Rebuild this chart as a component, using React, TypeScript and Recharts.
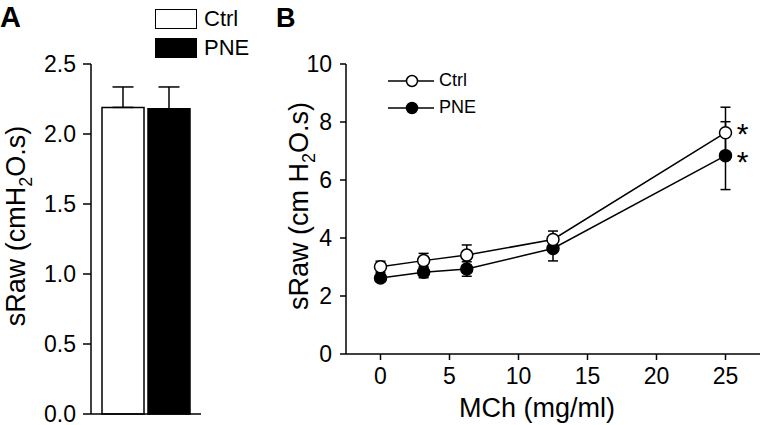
import { BarChart, Bar, LineChart, Line, XAxis, YAxis, ErrorBar, Legend, LabelList } from "recharts"

const FONT = "'Liberation Sans', Arial, Helvetica, sans-serif"

// panel A: baseline sRaw
const groups = ["Ctrl", "PNE"]
const baseRaw = [2.19, 2.18]
const baseSem = [0.146, 0.156]
const aTicks = [0, 0.5, 1, 1.5, 2, 2.5]

// panel B: MCh dose response
const doses = [0, 3.125, 6.25, 12.5, 25]
const ctrlRaw = [3.01, 3.22, 3.41, 3.95, 7.63]
const ctrlSem = [0.19, 0.25, 0.35, 0.29, 0.88]
const pneRaw = [2.62, 2.82, 2.93, 3.64, 6.84]
const pneSem = [0.12, 0.19, 0.25, 0.43, 1.17]
const stars = ["", "", "", "", "*"]
const bXTicks = [0, 5, 10, 15, 20, 25]
const bYTicks = [0, 2, 4, 6, 8, 10]

const barData = [
  {
    name: "baseline",
    ctrl: baseRaw[0],
    pne: baseRaw[1],
    ctrlErr: [0, baseSem[0]],
    pneErr: [0, baseSem[1]],
  },
]

const lineData = doses.map((d, i) => ({
  dose: d,
  ctrl: ctrlRaw[i],
  ctrlErr: ctrlSem[i],
  pne: pneRaw[i],
  pneErr: pneSem[i],
  star: stars[i],
}))

const tickStyle = { fill: "#000", fontSize: 23, fontFamily: FONT }
const axisStroke = { stroke: "#000", strokeWidth: 1.5 }

function SRawTitle({ viewBox, dx, dy, space }: any) {
  const cx = viewBox.x + dx
  const cy = viewBox.y + viewBox.height / 2 + dy
  return (
    <text
      x={cx}
      y={cy}
      transform={`rotate(-90, ${cx}, ${cy})`}
      textAnchor="middle"
      fontSize={27}
      fontFamily={FONT}
      fill="#000"
    >
      {`sRaw (cm${space ? " " : ""}H`}
      <tspan dy={7} fontSize={18}>2</tspan>
      <tspan dy={-7}>O.s)</tspan>
    </text>
  )
}

function BoxLegend() {
  return (
    <div style={{ fontFamily: FONT, fontSize: 22, color: "#000" }}>
      {groups.map((g, i) => (
        <div key={g} style={{ display: "flex", alignItems: "center", height: 29 }}>
          <span
            style={{
              display: "inline-block",
              width: 40,
              height: 18,
              border: "1.5px solid #000",
              background: i ? "#000" : "#fff",
              marginRight: 7,
            }}
          />
          {g}
        </div>
      ))}
    </div>
  )
}

function LineLegend() {
  return (
    <div style={{ fontFamily: FONT, fontSize: 18, color: "#000" }}>
      {groups.map((g, i) => (
        <div key={g} style={{ display: "flex", alignItems: "center", height: 27 }}>
          <svg width={46} height={14}>
            <line x1={0} y1={7} x2={46} y2={7} stroke="#000" strokeWidth={1.5} />
            <circle cx={24} cy={7} r={5.5} fill={i ? "#000" : "#fff"} stroke="#000" strokeWidth={1.5} />
          </svg>
          <span style={{ marginLeft: 5 }}>{g}</span>
        </div>
      ))}
    </div>
  )
}

function Star({ x, y, value, dy }: any) {
  if (!value) return null
  return (
    <text x={x + 17} y={y + dy} textAnchor="middle" fontSize={30} fontFamily={FONT} fill="#000">
      {value}
    </text>
  )
}

const dotStyle = (filled: boolean) => ({
  r: 6,
  fill: filled ? "#000" : "#fff",
  stroke: "#000",
  strokeWidth: 1.5,
})

export default function App() {
  return (
    <div style={{ position: "absolute", left: 0, top: 0, width: 760, height: 425, background: "#fff" }}>
      <div style={{ position: "absolute", left: 0, top: 3, fontFamily: FONT, fontWeight: "bold", fontSize: 29, lineHeight: 1 }}>A</div>
      <div style={{ position: "absolute", left: 276, top: 5, fontFamily: FONT, fontWeight: "bold", fontSize: 27, lineHeight: 1 }}>B</div>

      <div style={{ position: "absolute", left: 0, top: 0 }}>
        <BarChart width={260} height={425} data={barData} margin={{ top: 64, right: 59, bottom: 10, left: 0 }} barGap={4}>
          <XAxis dataKey="name" tick={false} tickLine={false} axisLine={axisStroke} height={1} />
          <YAxis
            width={91}
            domain={[0, 2.5]}
            ticks={aTicks}
            interval={0}
            tickFormatter={(v: number) => v.toFixed(1)}
            tickSize={8}
            tickMargin={7}
            tick={tickStyle}
            tickLine={axisStroke}
            axisLine={axisStroke}
            label={{ content: (p: any) => <SRawTitle {...p} dx={25} dy={-13} /> }}
          />
          <Legend
            layout="vertical"
            align="center"
            verticalAlign="middle"
            wrapperStyle={{ top: 4, left: 155, width: "auto" }}
            content={() => <BoxLegend />}
          />
          <Bar dataKey="ctrl" fill="#fff" stroke="#000" strokeWidth={1.5} barSize={42} isAnimationActive={false}>
            <ErrorBar dataKey="ctrlErr" direction="y" width={10.5} stroke="#000" strokeWidth={1.5} />
          </Bar>
          <Bar dataKey="pne" fill="#000" stroke="#000" strokeWidth={1.5} barSize={42} isAnimationActive={false}>
            <ErrorBar dataKey="pneErr" direction="y" width={10.5} stroke="#000" strokeWidth={1.5} />
          </Bar>
        </BarChart>
      </div>

      <div style={{ position: "absolute", left: 260, top: 0 }}>
        <LineChart width={500} height={425} data={lineData} margin={{ top: 64, right: 0, bottom: 0, left: 0 }}>
          <XAxis
            type="number"
            dataKey="dose"
            domain={[-2.5, 27.5]}
            ticks={bXTicks}
            interval={0}
            allowDataOverflow
            tickSize={6}
            tickMargin={8}
            tick={tickStyle}
            tickLine={axisStroke}
            axisLine={axisStroke}
            height={71}
            label={{
              content: ({ viewBox }: any) => (
                <text
                  x={viewBox.x + viewBox.width / 2 - 16}
                  y={viewBox.y + 63}
                  textAnchor="middle"
                  fontSize={27}
                  fontFamily={FONT}
                  fill="#000"
                >
                  MCh (mg/ml)
                </text>
              ),
            }}
          />
          <YAxis
            width={86}
            domain={[0, 10]}
            ticks={bYTicks}
            interval={0}
            tickSize={6}
            tickMargin={8}
            tick={tickStyle}
            tickLine={axisStroke}
            axisLine={axisStroke}
            label={{ content: (p: any) => <SRawTitle {...p} dx={48} dy={-3} space /> }}
          />
          <Legend
            layout="vertical"
            align="center"
            verticalAlign="middle"
            wrapperStyle={{ top: 67, left: 128, width: "auto" }}
            content={() => <LineLegend />}
          />
          <Line
            dataKey="pne"
            type="linear"
            stroke="#000"
            strokeWidth={1.5}
            dot={dotStyle(true)}
            activeDot={false}
            isAnimationActive={false}
          >
            <ErrorBar dataKey="pneErr" direction="y" width={5} stroke="#000" strokeWidth={1.5} />
            <LabelList dataKey="star" content={(p: any) => <Star {...p} dy={16} />} />
          </Line>
          <Line
            dataKey="ctrl"
            type="linear"
            stroke="#000"
            strokeWidth={1.5}
            dot={dotStyle(false)}
            activeDot={false}
            isAnimationActive={false}
          >
            <ErrorBar dataKey="ctrlErr" direction="y" width={5} stroke="#000" strokeWidth={1.5} />
            <LabelList dataKey="star" content={(p: any) => <Star {...p} dy={11} />} />
          </Line>
        </LineChart>
      </div>
    </div>
  )
}
